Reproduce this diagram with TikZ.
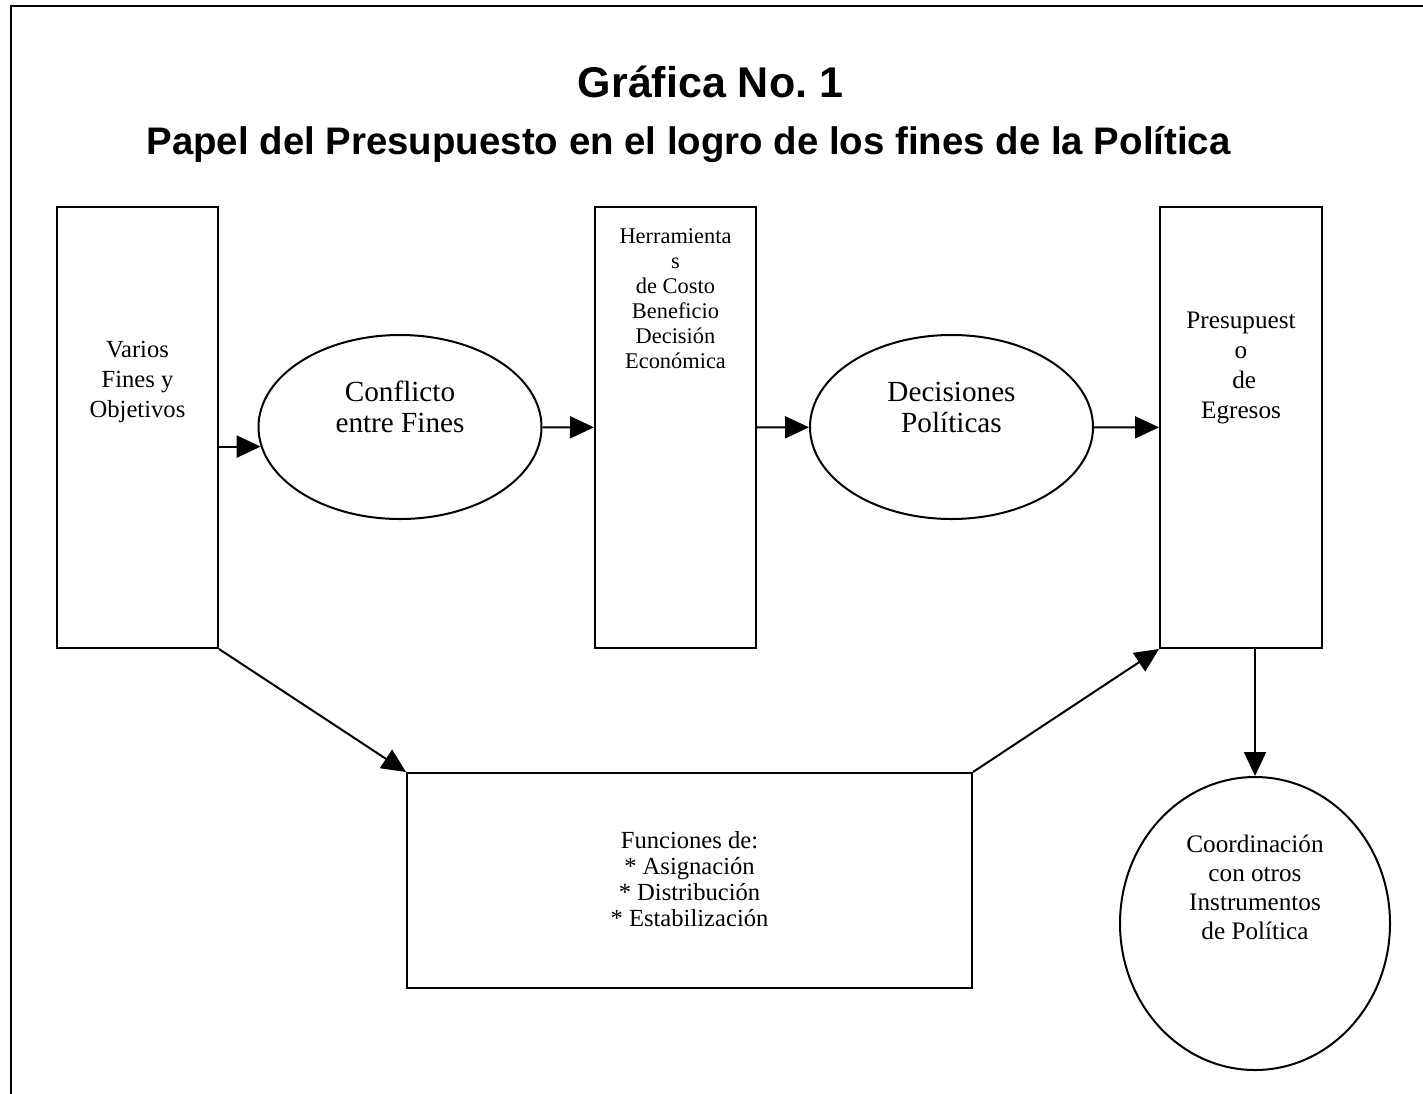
\documentclass[tikz,border=0pt]{standalone}
\usepackage{fontspec}
\setmainfont{Liberation Serif}
\setsansfont{Liberation Sans}
\usepackage{tikz}
\usetikzlibrary{arrows.meta,shapes}
\usetikzlibrary{positioning}
\tikzset{
    caja/.style={draw=black, line width=1pt, rectangle, inner sep=0pt},
    elipse/.style={draw=black, line width=1pt, ellipse, inner sep=0pt},
    texto/.style={align=center, inner sep=0pt},
    flecha/.style={draw=black, line width=1pt,
        -{Triangle[length=12pt,width=11pt]}},
    titulo/.style={anchor=base, font=\sffamily\bfseries\fontsize{21.5}{26}\selectfont},
    subtitulo/.style={anchor=base, font=\sffamily\bfseries\fontsize{19.2}{23}\selectfont},
}

\begin{document}
\begin{tikzpicture}[x=0.5pt, y=-0.5pt]
	\useasboundingbox (0,0) rectangle (1423,1093);
	% marco (solo se ven el borde superior y el izquierdo)
	\draw[line width=1pt] (11,1100) -- (11,6) -- (1430,6);
	\node[titulo] (titulo) at (710.5,97) {Gráfica No.\ 1};
	\node[subtitulo] (subtitulo) at (688.5,154) {Papel del Presupuesto en el logro de los fines de la Política};
	% fila superior
	\node[caja, minimum width=80.5pt, minimum height=220.5pt] (varios) at (137.5,427.5) {};
	\node[elipse, minimum width=141.5pt, minimum height=92pt] (conflicto) at (400,427) {};
	\node[caja, minimum width=80.5pt, minimum height=220.5pt] (herr) at (675.5,427.5) {};
	\node[elipse, minimum width=141.5pt, minimum height=92pt] (decisiones) at (951.5,427) {};
	\node[caja, minimum width=81pt, minimum height=220.5pt] (presup) at (1241,427.5) {};
	% fila inferior
	\node[caja, minimum width=282.5pt, minimum height=107.5pt] (funciones) at (689.5,880.5) {};
	\node[elipse, minimum width=135pt, minimum height=146.5pt] (coord) at (1255,923.5) {};
	% textos
	\node[texto, font=\fontsize{12.3}{15}\selectfont] (variosT) at (137.5,382) {Varios\\Fines y\\Objetivos};
	\node[texto, font=\fontsize{14.6}{15.5}\selectfont] (conflictoT) at (400,407) {Conflicto\\entre Fines};
	\node[texto, font=\fontsize{11.2}{12.5}\selectfont] (herrT) at (675.5,298.5) {Herramienta\\s\\de Costo\\Beneficio\\Decisión\\Económica};
	\node[texto, font=\fontsize{14.6}{15.5}\selectfont] (decisionesT) at (951.5,407) {Decisiones\\Políticas};
	\node[texto, font=\fontsize{12.6}{15}\selectfont] (presupT) at (1241,367.5) {Presupuest\\o\\\mbox{ }de\\Egresos};
	\node[texto, font=\fontsize{12.3}{13}\selectfont] (funcionesT) at (689.5,879) {Funciones de:\\* Asignación\\* Distribución\\* Estabilización};
	\node[texto, font=\fontsize{12.6}{14.5}\selectfont] (coordT) at (1255,887.5) {Coordinación\\con otros\\Instrumentos\\de Política};
	% conectores
	\draw[flecha] (varios.east |- conflicto.188) -- (conflicto.188);
	\draw[flecha] (conflicto) -- (herr);
	\draw[flecha] (herr) -- (decisiones);
	\draw[flecha] (decisiones) -- (presup);
	\draw[flecha] (varios.south east) -- (funciones.north west);
	\draw[flecha] (funciones.north east) -- (presup.south west);
	\draw[flecha] (coord.north |- presup.south) -- (coord.north);
\end{tikzpicture}
\end{document}
